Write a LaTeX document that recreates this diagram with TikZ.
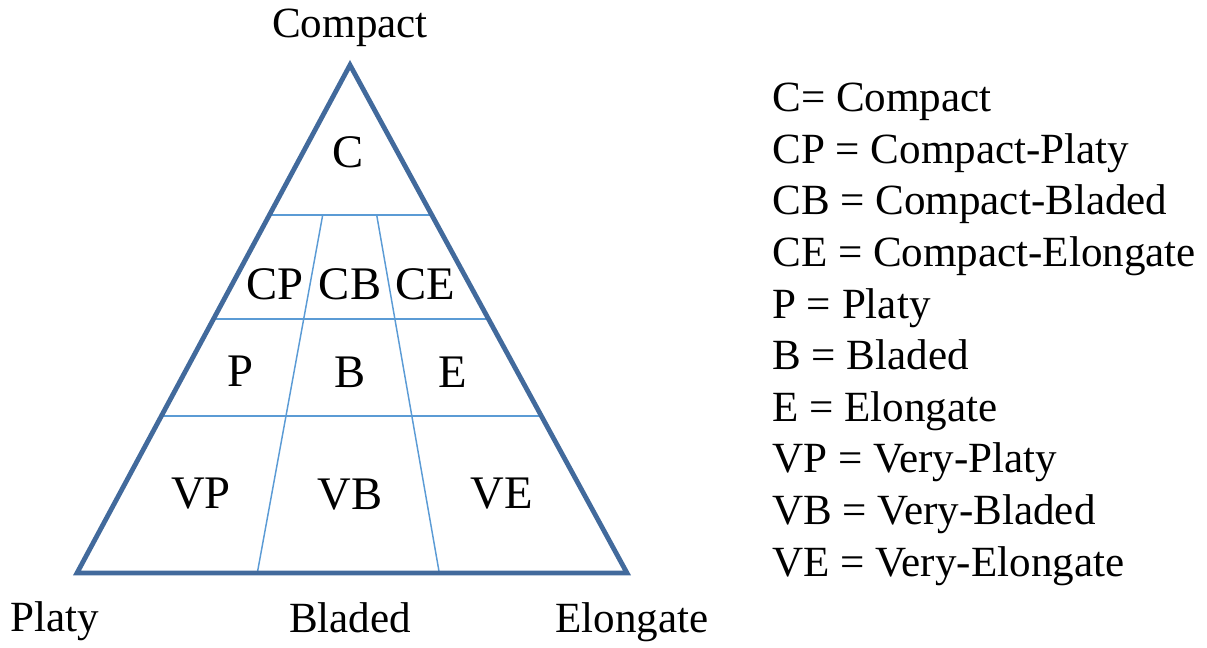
\documentclass[tikz,border=0pt]{standalone}
\usepackage{fontspec}
\setmainfont{Liberation Serif}
\usetikzlibrary{calc}
\definecolor{outline}{RGB}{66,106,156}
\definecolor{inner}{RGB}{91,155,213}
\begin{document}
\begin{tikzpicture}[x=0.75pt,y=-0.75pt,
  lbl/.style={font=\fontsize{32.3}{38}\selectfont, inner sep=0pt},
  cellbl/.style={font=\fontsize{35}{40}\selectfont, inner sep=0pt},
  leg/.style={font=\fontsize{32.3}{38}\selectfont, inner sep=0pt, anchor=base west},
  edge/.style={draw=outline, line width=3.6pt, line join=miter},
  cell/.style={draw=inner, line width=1.1pt}]
\useasboundingbox (0,0) rectangle (1207,647);
\coordinate (A) at (350,65);
\coordinate (L) at (77,573);
\coordinate (R) at (627,573);
% horizontal dividers
\coordinate (h1l) at ($(A)!0.2953!(L)$);
\coordinate (h1r) at ($(A)!0.2953!(R)$);
\coordinate (h2l) at ($(A)!0.5!(L)$);
\coordinate (h2r) at ($(A)!0.5!(R)$);
\coordinate (h3l) at ($(A)!0.691!(L)$);
\coordinate (h3r) at ($(A)!0.691!(R)$);
\coordinate (s1t) at (322.7,215);
\coordinate (s1b) at (257.3,573);
\coordinate (s2t) at (376.7,215);
\coordinate (s2b) at (439.3,573);
\draw[cell] (h1l) -- (h1r);
\draw[cell] (h2l) -- (h2r);
\draw[cell] (h3l) -- (h3r);
\draw[cell] (s1t) -- (s1b);
\draw[cell] (s2t) -- (s2b);
\draw[edge] (A) -- (L) -- (R) -- cycle;
% cell labels
\node[cellbl] (c) at (348,152) {C};
\node[cellbl] (cp) at (275,284) {CP};
\node[cellbl] (cb) at (350,284) {CB};
\node[cellbl] (ce) at (425,284) {CE};
\node[cellbl] (p) at (240,371) {P};
\node[cellbl] (b) at (350,372) {B};
\node[cellbl] (e) at (453,372) {E};
\node[cellbl] (vp) at (201,494) {VP};
\node[cellbl] (vb) at (350,495) {VB};
\node[cellbl] (ve) at (502,494) {VE};
% corner labels
\node[lbl, anchor=base] (compact) at (350,37) {Compact};
\node[lbl, anchor=base] (platy) at (55,631) {Platy};
\node[lbl, anchor=base] (bladed) at (350,632) {Bladed};
\node[lbl, anchor=base] (elong) at (632,632) {Elongate};
% legend
\node[leg] (l1) at (772,111.7) {C= Compact};
\node[leg] (l2) at (772,163.3) {CP = Compact-Platy};
\node[leg] (l3) at (772,214.9) {CB = Compact-Bladed};
\node[leg] (l4) at (772,266.5) {CE = Compact-Elongate};
\node[leg] (l5) at (772,318.1) {P = Platy};
\node[leg] (l6) at (772,369.7) {B = Bladed};
\node[leg] (l7) at (772,421.3) {E = Elongate};
\node[leg] (l8) at (772,472.9) {VP = Very-Platy};
\node[leg] (l9) at (772,524.5) {VB = Very-Bladed};
\node[leg] (l10) at (772,576.1) {VE = Very-Elongate};
\end{tikzpicture}
\end{document}
